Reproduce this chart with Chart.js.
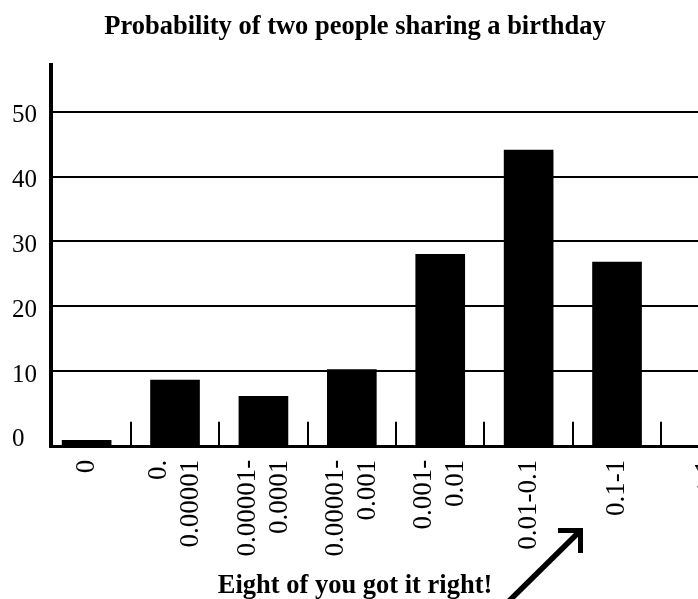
<!DOCTYPE html>
<html>
<head>
<meta charset="utf-8">
<script src="https://cdn.jsdelivr.net/npm/chart.js@4"></script>
<style>
  html, body { margin: 0; padding: 0; background: #fff; overflow: hidden; }
  #wrap { width: 740px; height: 599px; }
</style>
</head>
<body>
<div id="wrap"><canvas id="chart" width="740" height="599"></canvas></div>
<script>
const categories = ['0', ['0.', '0.00001'], ['0.00001-', '0.0001'], ['0.00001-', '0.001'],
  ['0.001-', '0.01'], '0.01-0.1', '0.1-1', '>1'];
const counts = [-0.7, 8.6, 6.1, 10.2, 28, 44.1, 26.8, null];
const yTicks = [0, 10, 20, 30, 40, 50];
const titleText = 'Probability of two people sharing a birthday';
const noteText = 'Eight of you got it right!';

const serif = "'Liberation Serif', 'Times New Roman', serif";
const yMin = -1.69;
const labelSize = 27;
const labelLH = 1.185;

// move two-line labels so the block is centred on its bar
const centreLabels = {
  id: 'centreLabels',
  afterLayout(chart) {
    const x = chart.scales.x;
    const unit = x.getPixelForValue(1) - x.getPixelForValue(0);
    const lh = labelSize * labelLH;
    x.ticks.forEach((t, i) => {
      const lines = Array.isArray(categories[i]) ? categories[i].length : 1;
      t.value = i - ((lines - 1) * lh / 2) / unit;
    });
  }
};

// little upward ticks between categories + the note and arrow
const extras = {
  id: 'extras',
  afterDraw(chart) {
    const ctx = chart.ctx;
    const x = chart.scales.x;
    const area = chart.chartArea;
    ctx.save();
    ctx.strokeStyle = '#000';
    ctx.lineWidth = 2;
    for (let i = 0; i < categories.length - 1; i++) {
      const px = Math.round(x.getPixelForValue(i + 0.5));
      ctx.beginPath();
      ctx.moveTo(px, area.bottom);
      ctx.lineTo(px, area.bottom - 25);
      ctx.stroke();
    }
    ctx.font = 'bold 26.5px ' + serif;
    ctx.fillStyle = '#000';
    ctx.textAlign = 'center';
    ctx.textBaseline = 'alphabetic';
    ctx.fillText(noteText, 355, 593);

    ctx.lineWidth = 5.5;
    ctx.lineCap = 'butt';
    ctx.lineJoin = 'miter';
    ctx.beginPath();
    ctx.moveTo(509, 601);
    ctx.lineTo(578, 533);
    ctx.stroke();
    ctx.lineWidth = 5;
    ctx.beginPath();
    ctx.moveTo(558, 530.5);
    ctx.lineTo(580.5, 530.5);
    ctx.lineTo(580.5, 553);
    ctx.stroke();
    ctx.restore();
  }
};

new Chart(document.getElementById('chart'), {
  type: 'bar',
  data: {
    datasets: [{
      data: categories.map((c, i) => ({ x: i, y: counts[i] })),
      base: yMin,
      backgroundColor: '#000',
      borderColor: '#000',
      borderWidth: 0,
      barThickness: 49
    }]
  },
  plugins: [centreLabels, extras],
  options: {
    responsive: false,
    animation: false,
    layout: { padding: { left: 12, right: 42, top: 0, bottom: 0 } },
    plugins: {
      legend: { display: false },
      tooltip: { enabled: false },
      title: {
        display: true,
        text: titleText,
        color: '#000',
        font: { family: serif, size: 26.5, weight: 'bold' },
        padding: { top: 11, bottom: 22 }
      }
    },
    scales: {
      x: {
        type: 'linear',
        offset: false,
        min: -0.403,
        max: 6.916,
        afterBuildTicks: s => { s.ticks = categories.map((c, i) => ({ value: i })); },
        afterFit: s => { s.height = 152.3; s.paddingLeft = 0; s.paddingRight = 0; },
        grid: { display: false, drawTicks: false, offset: false },
        border: { display: true, color: '#000', width: 3 },
        ticks: {
          autoSkip: false,
          minRotation: 90,
          maxRotation: 90,
          padding: 13,
          color: '#000',
          font: { family: serif, size: labelSize, lineHeight: labelLH },
          callback: (v, i) => categories[i]
        }
      },
      y: {
        min: yMin,
        max: 57.26,
        afterBuildTicks: s => { s.ticks = yTicks.map(v => ({ value: v })); },
        afterFit: s => { s.width = 39; },
        grid: {
          color: c => (c.tick && c.tick.value === 0) ? 'rgba(0,0,0,0)' : '#000',
          lineWidth: 2,
          drawTicks: false
        },
        border: { display: true, color: '#000', width: 4 },
        ticks: {
          crossAlign: 'far',
          padding: 12,
          labelOffset: 4,
          color: '#000',
          font: { family: serif, size: 25 }
        }
      }
    }
  }
});
</script>
</body>
</html>
